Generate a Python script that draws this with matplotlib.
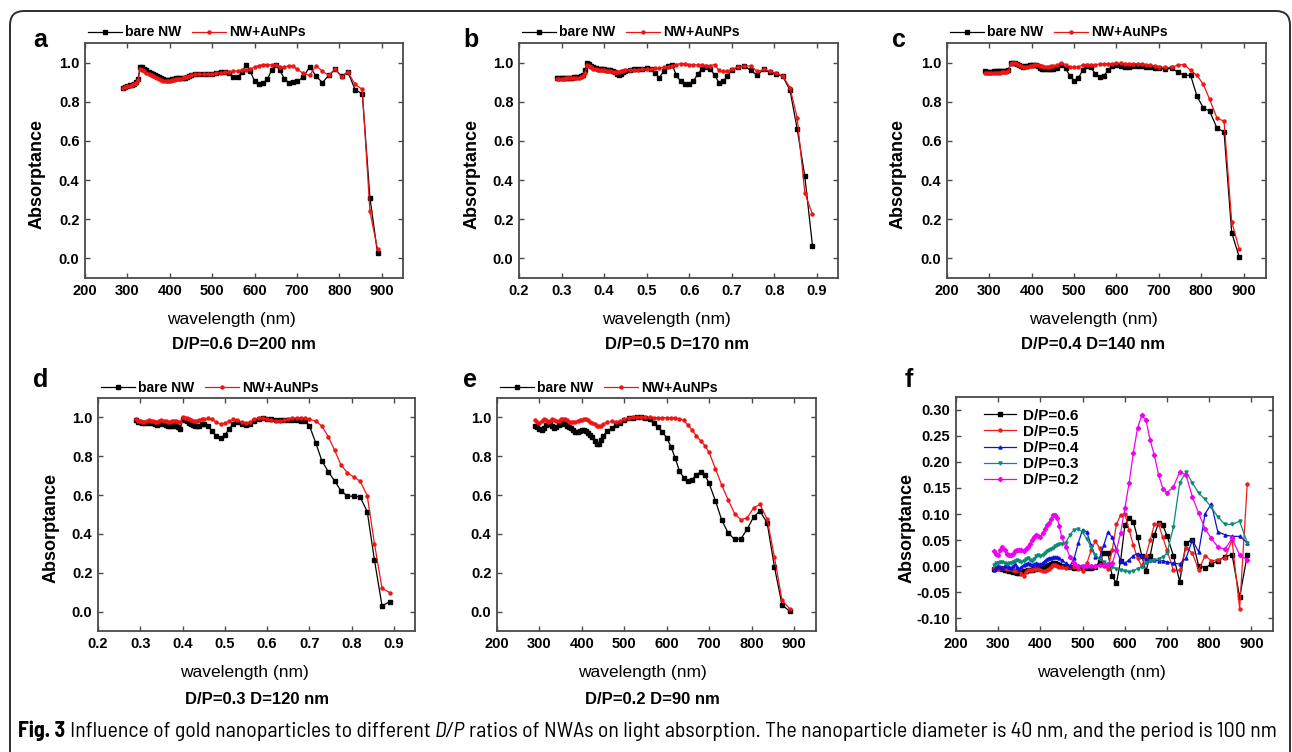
import matplotlib
matplotlib.use('Agg')
import matplotlib.pyplot as plt
from matplotlib import font_manager
from matplotlib.font_manager import FontProperties
from matplotlib.patches import FancyBboxPatch
from matplotlib.transforms import IdentityTransform
import numpy as np
import logging
logging.getLogger('matplotlib.font_manager').setLevel(logging.ERROR)

plt.rcParams['font.family'] = ['Liberation Sans', 'DejaVu Sans']
plt.rcParams['axes.unicode_minus'] = False

W, H = 1292, 752

# ---------------- data ----------------
wavelength = [290, 295, 300, 305, 310, 315, 320, 325, 330, 335, 340, 345, 350, 355, 360, 365, 370,
              375, 380, 385, 390, 395, 400, 405, 410, 415, 420, 425, 430, 435, 440, 445, 450,
              460, 470, 480, 490, 500, 510, 520, 530, 540, 550, 560, 570, 580, 590, 600, 610,
              620, 630, 640, 650, 660, 670, 680, 690, 700,
              715, 730, 745, 760, 775, 790, 805, 820, 837, 854, 872, 890]

a_bare = [0.872, 0.876, 0.880, 0.884, 0.888, 0.893, 0.900, 0.915, 0.980, 0.976, 0.969, 0.961, 0.954,
          0.947, 0.941, 0.935, 0.930, 0.925, 0.920, 0.916, 0.912, 0.911, 0.912, 0.915, 0.918, 0.920,
          0.921, 0.920, 0.919, 0.921, 0.925, 0.930, 0.935,
          0.940, 0.940, 0.941, 0.942, 0.944, 0.947, 0.950, 0.952, 0.945, 0.925, 0.925, 0.950, 0.990,
          0.955, 0.905, 0.892, 0.895, 0.915, 0.960, 0.990, 0.960, 0.918, 0.898, 0.900, 0.905,
          0.925, 0.980, 0.930, 0.898, 0.935, 0.966, 0.930, 0.952, 0.862, 0.840, 0.310, 0.026]
a_au = [0.870, 0.874, 0.878, 0.882, 0.886, 0.891, 0.897, 0.910, 0.968, 0.963, 0.955, 0.948, 0.942,
        0.936, 0.930, 0.925, 0.920, 0.915, 0.911, 0.908, 0.906, 0.906, 0.908, 0.910, 0.912, 0.914,
        0.915, 0.917, 0.920, 0.924, 0.928, 0.932, 0.936,
        0.940, 0.940, 0.940, 0.942, 0.943, 0.945, 0.948, 0.950, 0.953, 0.955, 0.957, 0.960, 0.962,
        0.967, 0.978, 0.985, 0.990, 0.990, 0.988, 0.986, 0.977, 0.975, 0.985, 0.983, 0.965,
        0.945, 0.935, 0.985, 0.955, 0.935, 0.966, 0.928, 0.952, 0.889, 0.863, 0.240, 0.046]

b_bare = [0.920, 0.920, 0.920, 0.920, 0.921, 0.922, 0.922, 0.923, 0.924, 0.925, 0.927, 0.930, 0.935,
          0.960, 0.998, 0.992, 0.985, 0.978, 0.972, 0.968, 0.966, 0.965, 0.965, 0.964, 0.963, 0.962,
          0.958, 0.950, 0.942, 0.939, 0.942, 0.950, 0.956,
          0.962, 0.965, 0.966, 0.968, 0.972, 0.968, 0.945, 0.923, 0.955, 0.982, 0.988, 0.935, 0.905,
          0.890, 0.892, 0.905, 0.940, 0.968, 0.978, 0.968, 0.935, 0.898, 0.905, 0.930, 0.962,
          0.975, 0.983, 0.960, 0.935, 0.965, 0.950, 0.940, 0.930, 0.860, 0.662, 0.419, 0.065]
b_au = [0.918, 0.918, 0.918, 0.918, 0.919, 0.919, 0.920, 0.920, 0.921, 0.922, 0.923, 0.925, 0.930,
        0.945, 0.990, 0.985, 0.975, 0.968, 0.965, 0.963, 0.962, 0.961, 0.960, 0.958, 0.957, 0.955,
        0.954, 0.953, 0.952, 0.953, 0.955, 0.958, 0.960,
        0.962, 0.963, 0.964, 0.965, 0.966, 0.968, 0.970, 0.972, 0.975, 0.980, 0.985, 0.990, 0.995,
        0.995, 0.990, 0.990, 0.988, 0.987, 0.985, 0.985, 0.990, 0.960, 0.955, 0.955, 0.965,
        0.978, 0.983, 0.983, 0.955, 0.965, 0.958, 0.945, 0.932, 0.872, 0.718, 0.335, 0.225]

c_bare = [0.955, 0.953, 0.952, 0.953, 0.955, 0.956, 0.957, 0.957, 0.958, 0.958, 0.958, 0.960, 0.998,
          1.000, 0.998, 0.993, 0.988, 0.983, 0.980, 0.982, 0.985, 0.988, 0.988, 0.990, 0.988, 0.982,
          0.972, 0.966, 0.965, 0.965, 0.965, 0.966, 0.966,
          0.970, 0.990, 0.970, 0.932, 0.908, 0.920, 0.960, 0.985, 0.975, 0.942, 0.925, 0.932, 0.960,
          0.985, 0.990, 0.985, 0.975, 0.980, 0.985, 0.985, 0.985, 0.980, 0.976, 0.972, 0.970,
          0.968, 0.970, 0.952, 0.935, 0.935, 0.829, 0.769, 0.752, 0.667, 0.645, 0.132, 0.005]
c_au = [0.945, 0.946, 0.946, 0.947, 0.947, 0.948, 0.948, 0.949, 0.950, 0.950, 0.951, 0.955, 0.995,
        1.000, 0.998, 0.993, 0.988, 0.983, 0.978, 0.978, 0.980, 0.982, 0.984, 0.987, 0.990, 0.988,
        0.984, 0.981, 0.980, 0.980, 0.980, 0.981, 0.983,
        0.988, 0.998, 0.990, 0.980, 0.975, 0.978, 0.988, 0.990, 0.990, 0.990, 0.992, 0.993, 0.994,
        0.995, 0.996, 0.996, 0.995, 0.995, 0.995, 0.994, 0.993, 0.990, 0.987, 0.983, 0.978,
        0.975, 0.975, 0.988, 0.990, 0.960, 0.935, 0.889, 0.812, 0.718, 0.700, 0.188, 0.046]

d_bare = [0.985, 0.978, 0.975, 0.972, 0.970, 0.972, 0.975, 0.973, 0.970, 0.965, 0.962, 0.965, 0.970,
          0.968, 0.962, 0.958, 0.955, 0.958, 0.962, 0.958, 0.950, 0.942, 0.990, 0.988, 0.980, 0.972,
          0.965, 0.960, 0.955, 0.955, 0.958, 0.965, 0.968,
          0.955, 0.930, 0.905, 0.895, 0.908, 0.940, 0.968, 0.975, 0.965, 0.960, 0.965, 0.980, 0.990,
          0.995, 0.993, 0.990, 0.988, 0.986, 0.985, 0.985, 0.985, 0.985, 0.983, 0.980, 0.958,
          0.870, 0.775, 0.720, 0.672, 0.622, 0.595, 0.594, 0.591, 0.515, 0.266, 0.030, 0.050]
d_au = [0.990, 0.982, 0.980, 0.978, 0.978, 0.982, 0.985, 0.983, 0.980, 0.978, 0.976, 0.980, 0.985,
        0.983, 0.980, 0.976, 0.975, 0.979, 0.984, 0.982, 0.978, 0.975, 1.000, 0.998, 0.995, 0.990,
        0.985, 0.982, 0.980, 0.982, 0.987, 0.990, 0.990,
        0.995, 0.990, 0.975, 0.965, 0.970, 0.980, 0.990, 0.985, 0.975, 0.970, 0.975, 0.990, 0.998,
        0.995, 0.990, 0.985, 0.982, 0.982, 0.985, 0.990, 0.995, 0.998, 0.998, 0.995, 0.990,
        0.982, 0.955, 0.900, 0.830, 0.755, 0.715, 0.693, 0.672, 0.597, 0.350, 0.120, 0.098]

e_bare = [0.958, 0.950, 0.940, 0.935, 0.945, 0.960, 0.970, 0.965, 0.955, 0.948, 0.950, 0.960, 0.968,
          0.971, 0.965, 0.958, 0.950, 0.945, 0.935, 0.926, 0.923, 0.928, 0.935, 0.936, 0.928, 0.918,
          0.910, 0.898, 0.880, 0.865, 0.863, 0.885, 0.905,
          0.928, 0.945, 0.960, 0.972, 0.985, 0.995, 0.998, 1.000, 1.000, 0.998, 0.990, 0.970, 0.950,
          0.925, 0.895, 0.850, 0.790, 0.725, 0.690, 0.672, 0.680, 0.705, 0.720, 0.705, 0.660,
          0.570, 0.470, 0.405, 0.372, 0.375, 0.425, 0.488, 0.518, 0.455, 0.230, 0.034, 0.002]
e_au = [0.988, 0.978, 0.972, 0.980, 0.990, 0.985, 0.975, 0.980, 0.990, 0.988, 0.980, 0.982, 0.990,
        0.992, 0.990, 0.985, 0.978, 0.975, 0.975, 0.978, 0.982, 0.985, 0.988, 0.990, 0.990, 0.985,
        0.978, 0.970, 0.965, 0.958, 0.955, 0.955, 0.965,
        0.975, 0.980, 0.978, 0.980, 0.990, 0.998, 1.000, 1.000, 1.000, 1.000, 1.000, 0.999, 0.999,
        0.999, 0.999, 0.998, 0.996, 0.993, 0.985, 0.960, 0.935, 0.905, 0.880, 0.855, 0.820,
        0.735, 0.650, 0.575, 0.505, 0.473, 0.483, 0.535, 0.552, 0.475, 0.280, 0.058, 0.015]

f_dp06 = [-0.005, -0.004, -0.003, -0.004, -0.005, -0.007, -0.008, -0.009, -0.010, -0.011, -0.012,
          -0.013, -0.013, -0.012, -0.010, -0.009, -0.008, -0.008, -0.007, -0.006, -0.005, -0.004,
          -0.003, -0.003, -0.002, 0.000, 0.002, 0.004, 0.005, 0.005, 0.003, 0.001, 0.000,
          0.000, -0.002, -0.003, -0.002, -0.002, -0.003, -0.003, -0.002, 0.008, 0.025, 0.025, -0.020,
          -0.033, 0.010, 0.078, 0.093, 0.085, 0.055, 0.020, -0.010, 0.020, 0.060, 0.083, 0.078, 0.058,
          0.020, -0.030, 0.045, 0.050, 0.000, -0.003, 0.003, 0.010, 0.018, 0.022, -0.060, 0.021]
f_dp05 = [-0.003, -0.004, -0.005, -0.004, -0.003, -0.004, -0.005, -0.005, -0.006, -0.008, -0.010,
          -0.008, -0.008, -0.015, -0.020, -0.012, -0.008, -0.007, -0.007, -0.006, -0.005, -0.006,
          -0.008, -0.010, -0.010, -0.008, -0.005, -0.002, 0.002, 0.002, 0.000, -0.001, -0.002,
          -0.003, -0.002, -0.002, -0.005, -0.010, 0.005, 0.030, 0.048, 0.035, 0.000, -0.005, 0.030,
          0.080, 0.098, 0.100, 0.070, 0.040, 0.015, 0.000, 0.020, 0.050, 0.080, 0.080, 0.055, 0.030,
          -0.008, -0.008, 0.035, 0.025, -0.008, 0.020, 0.010, 0.012, 0.015, 0.050, -0.082, 0.158]
f_dp04 = [-0.007, -0.004, 0.000, -0.002, -0.004, 0.000, 0.002, -0.001, -0.004, 0.000, 0.003,
          -0.002, -0.005, -0.002, 0.002, 0.004, 0.005, 0.003, 0.002, 0.004, 0.005, 0.004,
          0.003, 0.006, 0.010, 0.013, 0.015, 0.016, 0.017, 0.017, 0.017, 0.015, 0.012,
          0.005, 0.000, 0.015, 0.045, 0.070, 0.065, 0.040, 0.018, 0.015, 0.040, 0.065, 0.055,
          0.032, 0.010, 0.005, 0.012, 0.020, 0.024, 0.020, 0.014, 0.012, 0.011, 0.010, 0.010, 0.008,
          0.005, 0.004, 0.015, 0.050, 0.027, 0.100, 0.120, 0.066, 0.060, 0.057, 0.057, 0.045]
f_dp03 = [0.002, 0.005, 0.006, 0.008, 0.007, 0.005, 0.003, 0.005, 0.006, 0.008, 0.010,
          0.012, 0.010, 0.008, 0.010, 0.014, 0.015, 0.012, 0.010, 0.014, 0.020, 0.022,
          0.020, 0.022, 0.025, 0.028, 0.030, 0.033, 0.035, 0.038, 0.040, 0.042, 0.043,
          0.045, 0.060, 0.070, 0.071, 0.065, 0.052, 0.036, 0.022, 0.013, 0.008, 0.003, -0.002,
          -0.005, -0.008, -0.010, -0.011, -0.009, -0.005, -0.001, 0.005, 0.009, 0.012, 0.014, 0.017,
          0.025,
          0.075, 0.160, 0.181, 0.160, 0.140, 0.128, 0.113, 0.095, 0.080, 0.080, 0.086, 0.045]
f_dp02 = [0.028, 0.024, 0.021, 0.030, 0.037, 0.030, 0.023, 0.021, 0.021, 0.024, 0.028,
          0.030, 0.031, 0.030, 0.029, 0.033, 0.037, 0.043, 0.050, 0.056, 0.060, 0.058,
          0.055, 0.063, 0.072, 0.078, 0.083, 0.090, 0.098, 0.098, 0.092, 0.076, 0.056,
          0.037, 0.018, 0.005, 0.000, 0.000, 0.000, 0.000, 0.000, 0.001, 0.001, 0.002, 0.005,
          0.031, 0.063, 0.111, 0.159, 0.217, 0.265, 0.290, 0.281, 0.242, 0.213, 0.175, 0.149, 0.141,
          0.152, 0.181, 0.175, 0.133, 0.101, 0.072, 0.053, 0.037, 0.032, 0.053, 0.021, 0.012]

legend_pair = ['bare NW', 'NW+AuNPs']
f_labels = ['D/P=0.6', 'D/P=0.5', 'D/P=0.4', 'D/P=0.3', 'D/P=0.2']
subtitles = ['D/P=0.6 D=200 nm', 'D/P=0.5 D=170 nm', 'D/P=0.4 D=140 nm',
             'D/P=0.3 D=120 nm', 'D/P=0.2 D=90 nm']
nm_ticks = [200, 300, 400, 500, 600, 700, 800, 900]
um_ticks = [0.2, 0.3, 0.4, 0.5, 0.6, 0.7, 0.8, 0.9]
abs_ticks = [0.0, 0.2, 0.4, 0.6, 0.8, 1.0]
f_ticks = [-0.10, -0.05, 0.00, 0.05, 0.10, 0.15, 0.20, 0.25, 0.30]
caption_parts = [('Fig. 3', 'bold', 'normal'),
                 ('Influence of gold nanoparticles to different', 'normal', 'normal'),
                 ('D/P', 'normal', 'italic'),
                 ('ratios of NWAs on light absorption. The nanoparticle diameter is 40 nm, '
                  'and the period is 100 nm', 'normal', 'normal')]

for name, arr in [('a_bare', a_bare), ('a_au', a_au), ('b_bare', b_bare), ('b_au', b_au),
                  ('c_bare', c_bare), ('c_au', c_au), ('d_bare', d_bare), ('d_au', d_au),
                  ('e_bare', e_bare), ('e_au', e_au), ('f_dp06', f_dp06), ('f_dp05', f_dp05),
                  ('f_dp04', f_dp04), ('f_dp03', f_dp03), ('f_dp02', f_dp02)]:
    if len(arr) != len(wavelength):
        raise ValueError(f'{name}: {len(arr)} != {len(wavelength)}')

wl = np.array(wavelength, dtype=float)
wl_um = wl / 1000.0

# ---------------- styling ----------------
FRAME = '#4a4a4a'
RED = '#f01414'
LW = 0.9
MS = 2.2
fig = plt.figure(figsize=(W / 100, H / 100), dpi=100)


def px_axes(l, t, r, b):
    return fig.add_axes([l / W, 1 - b / H, (r - l) / W, (b - t) / H])


def style_axes(ax, xlim, ylim, xticks, yticks, xfmt, yfmt):
    ax.set_xlim(*xlim)
    ax.set_ylim(*ylim)
    ax.set_xticks(xticks)
    ax.set_yticks(yticks)
    ax.set_xticklabels([xfmt.format(v) for v in xticks])
    ax.set_yticklabels([yfmt.format(v) for v in yticks])
    for s in ax.spines.values():
        s.set_color(FRAME)
        s.set_linewidth(1.3)
    ax.tick_params(direction='in', top=True, right=True, length=3.5, width=1.0,
                   color=FRAME, labelsize=10.5, pad=4)
    for lab in ax.get_xticklabels() + ax.get_yticklabels():
        lab.set_fontweight('bold')


def ftext(x, y, s, **kw):
    return fig.text(x / W, 1 - y / H, s, **kw)


black_kw = dict(color='black', lw=LW, marker='s', ms=MS, mec='black', mfc='black')
red_kw = dict(color=RED, lw=LW, marker='o', ms=MS, mec=RED, mfc=RED)

panels = [
    dict(box=(85, 43, 403, 278), x=wl, xt=nm_ticks, xf='{:d}', xl=(200, 950),
         bare=a_bare, au=a_au, letter='a', lp=(33, 47), yl=(37, 174), xlp=(231, 320),
         sub=subtitles[0], sp=(244, 345)),
    dict(box=(519, 43, 838, 278), x=wl_um, xt=um_ticks, xf='{:.1f}', xl=(0.2, 0.95),
         bare=b_bare, au=b_au, letter='b', lp=(463, 47), yl=(472, 174), xlp=(666, 320),
         sub=subtitles[1], sp=(677, 345)),
    dict(box=(947, 43, 1266, 278), x=wl, xt=nm_ticks, xf='{:d}', xl=(200, 953),
         bare=c_bare, au=c_au, letter='c', lp=(892, 47), yl=(898, 174), xlp=(1093, 320),
         sub=subtitles[2], sp=(1093, 345)),
    dict(box=(98, 398, 415, 631), x=wl_um, xt=um_ticks, xf='{:.1f}', xl=(0.2, 0.95),
         bare=d_bare, au=d_au, letter='d', lp=(33, 387), yl=(51, 528), xlp=(244, 673),
         sub=subtitles[3], sp=(257, 700)),
    dict(box=(497, 398, 816, 631), x=wl, xt=nm_ticks, xf='{:d}', xl=(200, 952),
         bare=e_bare, au=e_au, letter='e', lp=(463, 387), yl=None, xlp=(642, 673),
         sub=subtitles[4], sp=(652, 700)),
]

for p in panels:
    ax = px_axes(*p['box'])
    ax.plot(p['x'], p['bare'], label=legend_pair[0], **black_kw)
    ax.plot(p['x'], p['au'], label=legend_pair[1], **red_kw)
    style_axes(ax, p['xl'], (-0.1, 1.1), p['xt'], abs_ticks, p['xf'], '{:.1f}')
    ax.legend(loc='center left', bbox_to_anchor=(0.008, 1.045), ncol=2, frameon=False,
              borderpad=0, borderaxespad=0, handlelength=2.45, handletextpad=0.25,
              columnspacing=0.75, numpoints=1,
              prop=dict(family='Liberation Sans', weight='bold', size=10))
    ftext(*p['lp'], p['letter'], fontsize=18, fontweight='bold', ha='left', va='baseline')
    if p['yl'] is not None:
        ftext(*p['yl'], 'Absorptance', fontsize=13, fontweight='bold', rotation=90,
              ha='center', va='center')
    ftext(*p['xlp'], 'wavelength (nm)', fontsize=12.5, fontweight='normal',
          ha='center', va='center')
    ftext(*p['sp'], p['sub'], fontsize=12, fontweight='bold', ha='center', va='center')

# panel f
axf = px_axes(956, 397, 1273, 631)
f_series = [f_dp06, f_dp05, f_dp04, f_dp03, f_dp02]
f_colors = ['black', '#ee1c1c', '#1010e0', '#0b8a78', '#f000f0']
f_markers = ['s', 'o', '^', 'v', 'D']
for ys, c, m, lab in zip(f_series, f_colors, f_markers, f_labels):
    axf.plot(wl, ys, color=c, lw=LW, marker=m, ms=MS, mec=c, mfc=c, label=lab)
style_axes(axf, (200, 951), (-0.125, 0.325), nm_ticks, f_ticks, '{:d}', '{:.2f}')
axf.legend(loc='upper left', bbox_to_anchor=(0.088, 0.95), frameon=False, borderpad=0,
           borderaxespad=0, handlelength=2.1, handletextpad=0.45, labelspacing=0.14,
           numpoints=1, prop=dict(family='Liberation Sans', weight='bold', size=11))
ftext(905, 387, 'f', fontsize=18, fontweight='bold', ha='left', va='baseline')
ftext(907, 528, 'Absorptance', fontsize=13, fontweight='bold', rotation=90,
      ha='center', va='center')
ftext(1101, 673, 'wavelength (nm)', fontsize=12.5, fontweight='normal',
      ha='center', va='center')

# ---------------- outer rounded box ----------------
box = FancyBboxPatch((10, -30), 1280, (H - 11) + 30,
                     boxstyle='round,pad=0,rounding_size=14',
                     transform=IdentityTransform(), fill=False, ec='#2e2e2e', lw=1.4,
                     clip_on=False)
fig.add_artist(box)

# ---------------- caption: semi-condensed face if a file for it is installed ----------------
entries = font_manager.fontManager.ttflist


def _key(f):
    return (f.fname).lower().replace('-', '').replace('_', '').replace(' ', '')


def _is_italic(f):
    return f.style != 'normal' or 'italic' in _key(f)


def _wt(f):
    w = f.weight
    if isinstance(w, str):
        w = {'normal': 400, 'regular': 400, 'book': 400, 'bold': 700}.get(w, 400)
    return w


semi = [f for f in entries if 'semicondensed' in _key(f)]
reg = [f for f in semi if not _is_italic(f) and _wt(f) == 400]
cap_files = None
if reg:
    fam = reg[0].name
    same = [f for f in semi if f.name == fam] or semi
    bold = [f for f in same if not _is_italic(f) and _wt(f) == 700]
    ital = [f for f in same if _is_italic(f) and _wt(f) == 400]
    cap_files = {('normal', 'normal'): reg[0].fname,
                 ('bold', 'normal'): (bold[0].fname if bold else reg[0].fname),
                 ('normal', 'italic'): (ital[0].fname if ital else reg[0].fname)}


def cap_props(weight, style, size):
    if cap_files:
        return FontProperties(fname=cap_files[(weight, style)], size=size)
    return FontProperties(family='Liberation Sans', weight=weight, style=style, size=size)


size0 = 11.0
cap_texts = [ftext(18, 737, s, fontproperties=cap_props(w, st, size0), ha='left', va='baseline')
             for s, w, st in caption_parts]
probe1 = ftext(0, 800, 'a a', fontproperties=cap_props('normal', 'normal', size0))
probe2 = ftext(0, 800, 'aa', fontproperties=cap_props('normal', 'normal', size0))


def layout(size):
    for t, (s, w, st) in zip(cap_texts, caption_parts):
        t.set_fontproperties(cap_props(w, st, size))
    probe1.set_fontproperties(cap_props('normal', 'normal', size))
    probe2.set_fontproperties(cap_props('normal', 'normal', size))
    fig.canvas.draw()
    r = fig.canvas.get_renderer()
    space = probe1.get_window_extent(r).width - probe2.get_window_extent(r).width
    x = 18.0
    for t in cap_texts:
        t.set_x(x / W)
        x += t.get_window_extent(r).width + space
    return x - space - 18.0


total = layout(size0)
size1 = min(size0 * 1262.0 / total, 16.5)
layout(size1)
probe1.set_visible(False)
probe2.set_visible(False)

fig.savefig('out.png', dpi=100)
